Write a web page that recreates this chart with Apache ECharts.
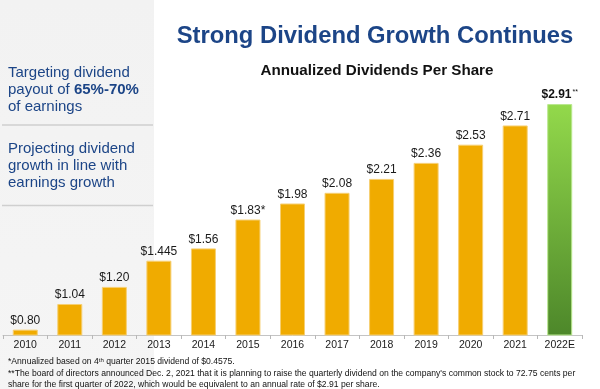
<!DOCTYPE html>
<html>
<head>
<meta charset="utf-8">
<style>
  html, body { margin: 0; padding: 0; background: #ffffff; }
  #chart { width: 600px; height: 389px; }
</style>
<script src="https://cdn.jsdelivr.net/npm/echarts@6/dist/echarts.min.js"></script>
</head>
<body>
<div id="chart"></div>
<script>
const categories = ['2010','2011','2012','2013','2014','2015','2016','2017','2018','2019','2020','2021','2022E'];
const dividends = [0.80, 1.04, 1.20, 1.445, 1.56, 1.83, 1.98, 2.08, 2.21, 2.36, 2.53, 2.71, 2.91];
const valueLabels = ['$0.80','$1.04','$1.20','$1.445','$1.56','$1.83*','$1.98','$2.08','$2.21','$2.36','$2.53','$2.71','$2.91'];
const estimateIndex = 12;

const titleText = 'Strong Dividend Growth Continues';
const subtitleText = 'Annualized Dividends Per Share';
const sideBlock1 = ['Targeting dividend', 'payout of {b|65%-70%}', 'of earnings'];
const sideBlock2 = ['Projecting dividend', 'growth in line with', 'earnings growth'];
const footnote1 = '*Annualized based on 4{sup|th} quarter 2015 dividend of $0.4575.';
const footnote2 = "**The board of directors announced Dec. 2, 2021 that it is planning to raise the quarterly dividend on the company's common stock to 72.75 cents per";
const footnote3 = 'share for the first quarter of 2022, which would be equivalent to an annual rate of $2.91 per share.';

const FONT = 'Liberation Sans, Arial, sans-serif';
const BLUE = '#1c4587';

const chart = echarts.init(document.getElementById('chart'), null, { renderer: 'canvas' });

const barData = dividends.map((v, i) => {
  if (i === estimateIndex) {
    return {
      value: v,
      itemStyle: {
        color: new echarts.graphic.LinearGradient(0, 0, 0, 1, [
          { offset: 0, color: '#93d94b' },
          { offset: 1, color: '#4d872a' }
        ]),
        borderColor: '#b9e88e',
        borderWidth: 1
      },
      label: {
        formatter: '{b|' + valueLabels[i] + '}{s|**}'
      }
    };
  }
  if (valueLabels[i].endsWith('*')) {
    return { value: v, label: { formatter: valueLabels[i].slice(0, -1) + '{a|*}' } };
  }
  return { value: v, label: { formatter: valueLabels[i] } };
});

const option = {
  animation: false,
  backgroundColor: '#ffffff',
  graphic: [
    {
      type: 'rect', z: -10, silent: true,
      shape: { x: 0, y: 0, width: 154, height: 389 },
      style: {
        fill: new echarts.graphic.LinearGradient(0, 0, 0, 1, [
          { offset: 0, color: '#f2f2f2' },
          { offset: 1, color: '#f5f5f5' }
        ])
      }
    },
    {
      type: 'line', z: -9, silent: true,
      shape: { x1: 2, y1: 125, x2: 153, y2: 125 },
      style: { stroke: '#cfcfcf', lineWidth: 1.5 }
    },
    {
      type: 'line', z: -9, silent: true,
      shape: { x1: 2, y1: 205.5, x2: 153, y2: 205.5 },
      style: { stroke: '#cfcfcf', lineWidth: 1.5 }
    },
    {
      type: 'text', x: 375, y: 36,
      style: {
        text: titleText, textAlign: 'center', textVerticalAlign: 'middle',
        font: 'bold 23.8px ' + FONT, fill: BLUE
      }
    },
    {
      type: 'text', x: 377, y: 71,
      style: {
        text: subtitleText, textAlign: 'center', textVerticalAlign: 'middle',
        font: 'bold 15.2px ' + FONT, fill: '#111111'
      }
    },
    {
      type: 'text', left: 8, top: 64,
      style: {
        text: sideBlock1.join('\n'),
        font: '15px ' + FONT, fill: BLUE, lineHeight: 17,
        rich: { b: { fontFamily: FONT, fontSize: 15, fontWeight: 'bold', fill: BLUE, lineHeight: 17 } }
      }
    },
    {
      type: 'text', left: 8, top: 140,
      style: {
        text: sideBlock2.join('\n'),
        font: '15px ' + FONT, fill: BLUE, lineHeight: 17
      }
    },
    {
      type: 'text', left: 8, top: 357,
      style: {
        text: footnote1,
        font: '8.6px ' + FONT, fill: '#111111',
        rich: { sup: { fontFamily: FONT, fontSize: 6, fill: '#111111', verticalAlign: 'top', padding: [0, 0, 4, 0] } }
      }
    },
    {
      type: 'text', left: 8, top: 369,
      style: { text: footnote2, font: '8.6px ' + FONT, fill: '#111111' }
    },
    {
      type: 'text', left: 8, top: 380,
      style: { text: footnote3, font: '8.6px ' + FONT, fill: '#111111' }
    }
  ],
  grid: { left: 3, right: 18, top: 41, bottom: 54, containLabel: false },
  xAxis: {
    type: 'category',
    data: categories,
    axisLine: { show: true, lineStyle: { color: '#c4c4c4', width: 1 } },
    axisTick: { show: true, alignWithLabel: false, length: 4, lineStyle: { color: '#b8b8b8' } },
    axisLabel: { fontFamily: FONT, fontSize: 10.5, color: '#1a1a1a', margin: 5, interval: 0 }
  },
  yAxis: {
    type: 'value', min: 0.75, max: 3.5,
    show: false, splitLine: { show: false }
  },
  series: [
    {
      type: 'bar',
      data: barData,
      barWidth: 25,
      itemStyle: { color: '#f0ab00', borderColor: '#f6cf73', borderWidth: 1 },
      label: {
        show: true, position: 'top', distance: 3,
        fontFamily: FONT, fontSize: 12, color: '#1a1a1a',
        rich: {
          a: { fontFamily: FONT, fontSize: 12, color: '#1a1a1a' },
          b: { fontFamily: FONT, fontSize: 12, fontWeight: 'bold', color: '#111111' },
          s: { fontFamily: FONT, fontSize: 7, color: '#111111', verticalAlign: 'top', padding: [0, 0, 6, 1] }
        }
      }
    }
  ]
};

chart.setOption(option);
</script>
</body>
</html>
